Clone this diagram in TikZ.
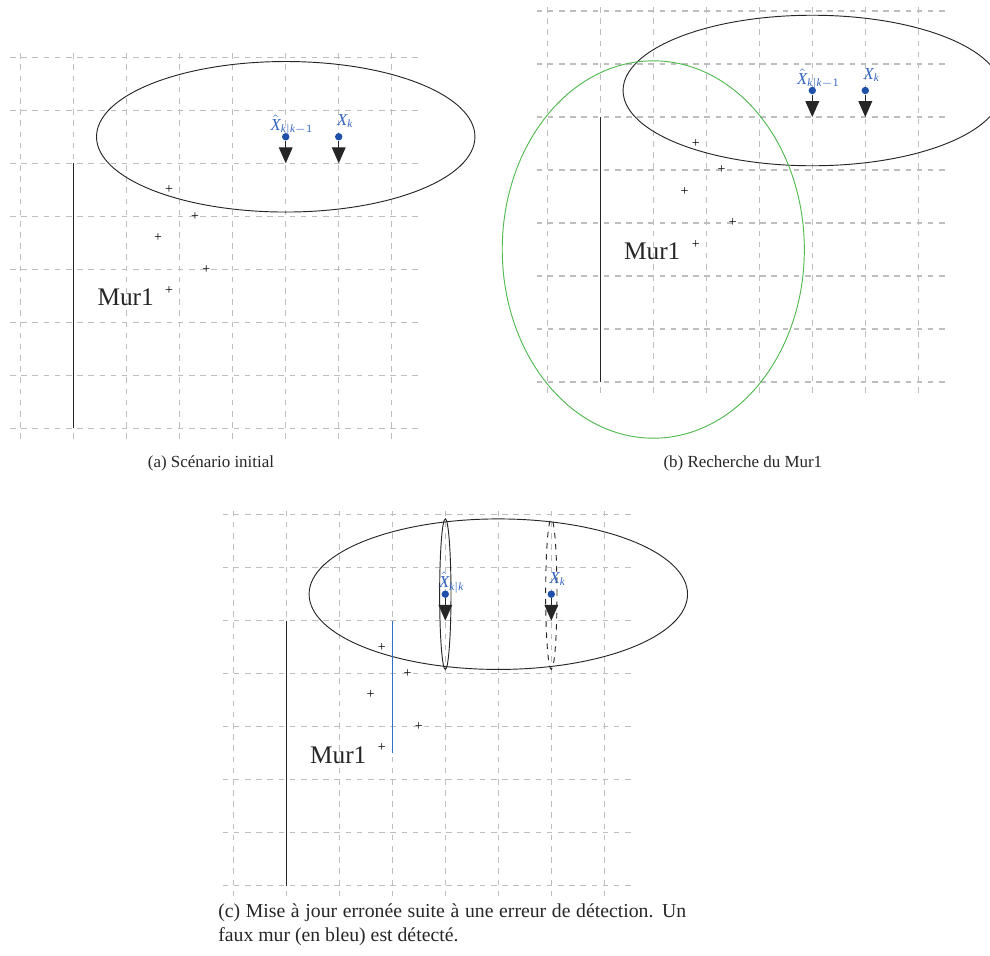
\documentclass[tikz,border=0pt]{standalone}
\usepackage{fontspec}
\setmainfont{Liberation Serif}
\usetikzlibrary{arrows.meta}
\definecolor{GridGray}{RGB}{190,190,190}
\definecolor{EstBlue}{RGB}{30,80,170}
\definecolor{LabelBlue}{RGB}{50,100,190}
\definecolor{FalseBlue}{RGB}{50,110,200}
\definecolor{GateGreen}{RGB}{80,185,80}
\tikzset{
  gridline/.style={draw=GridGray,dashed,line width=0.6pt},
  wall/.style={draw=black!85,line width=0.6pt},
  falsewall/.style={draw=FalseBlue,line width=0.7pt},
  covar/.style={draw=black!85,line width=0.5pt},
  gate/.style={draw=GateGreen,line width=0.5pt},
  hit/.style={inner sep=0pt,font=\fontsize{7.5}{8}\selectfont},
  murlabel/.style={inner sep=0pt,font=\fontsize{13.6}{15}\selectfont,text=black!85},
  estdot/.style={circle,fill=EstBlue,inner sep=0pt,minimum size=1.4mm},
  estlabel/.style={anchor=north,inner sep=0pt,text=LabelBlue,font=\fontsize{9}{10}\selectfont},
  motion/.style={-{Triangle[length=3mm,width=2.6mm]},draw=black!85,line width=0.5pt},
  caption/.style={font=\fontsize{9.1}{12.8}\selectfont,text=black!85},
  % grid, wall, laser hits and predicted covariance, shared by the three panels
  salle/.pic={
    \draw[gridline] (-0.2,-0.2) grid (7.5,7.15);
    \draw[wall] (1,0) -- (1,5);
    \node[murlabel] (-mur) at (1.98,2.47) {Mur1};
    \foreach \px/\py [count=\n] in {2.8/4.5,3.29/4.0,2.59/3.6,3.5/3.0,2.8/2.6}
      \node[hit] (-hit\n) at (\px,\py) {+};
    \draw[covar] (5,5.5) ellipse [x radius=3.57,y radius=1.42];
  }
}

\begin{document}
\begin{tikzpicture}
  \useasboundingbox (0,0) rectangle (18.679,18.019);

  % (a) initial scenario
  \begin{scope}[shift={(0.391,9.938)}]
    \pic (sa) at (0,0) {salle};
    \node[estdot] (xpred) at (5,5.5) {};
    \node[estdot] (xtrue) at (6,5.5) {};
    \coordinate (xpredtip) at (5,5);
    \coordinate (xtruetip) at (6,5);
    \draw[motion] (xpred) -- (xpredtip);
    \draw[motion] (xtrue) -- (xtruetip);
    \node[estlabel] (xpredlbl) at (5.12,5.92) {$\hat{\mathit{X}}_{\mathit{k}|\mathit{k}-1}$};
    \node[estlabel] (xtruelbl) at (6.12,5.92) {$\mathit{X}_{\mathit{k}}$};
    \node[caption] (capa) at (3.59,-0.655) {(a) Scénario initial};
  \end{scope}

  % (b) search for the wall
  \begin{scope}[shift={(10.326,10.811)}]
    \pic (sb) at (0,0) {salle};
    \draw[gate] (2,2.5) ellipse [x radius=2.85,y radius=3.56];
    \node[estdot] (xpredb) at (5,5.5) {};
    \node[estdot] (xtrueb) at (6,5.5) {};
    \coordinate (xpredbtip) at (5,5);
    \coordinate (xtruebtip) at (6,5);
    \draw[motion] (xpredb) -- (xpredbtip);
    \draw[motion] (xtrueb) -- (xtruebtip);
    \node[estlabel] (xpredblbl) at (5.12,5.92) {$\hat{\mathit{X}}_{\mathit{k}|\mathit{k}-1}$};
    \node[estlabel] (xtrueblbl) at (6.12,5.92) {$\mathit{X}_{\mathit{k}}$};
    \node[caption] (capb) at (3.69,-1.53) {(b) Recherche du Mur1};
  \end{scope}

  % (c) wrong update
  \begin{scope}[shift={(4.402,1.308)}]
    \pic (sc) at (0,0) {salle};
    \draw[falsewall] (3,2.5) -- (3,5);
    \node[estdot] (xupd) at (4,5.5) {};
    \node[estdot] (xtruec) at (6,5.5) {};
    \coordinate (xupdtip) at (4,5);
    \coordinate (xtruectip) at (6,5);
    \draw[motion] (xupd) -- (xupdtip);
    \draw[motion] (xtruec) -- (xtruectip);
    \draw[covar] (4,5.5) ellipse [x radius=0.107,y radius=1.42];
    \draw[covar,dashed] (6,5.5) ellipse [x radius=0.107,y radius=1.42];
    \node[estlabel] (xupdlbl) at (4.12,5.92) {$\hat{\mathit{X}}_{\mathit{k}|\mathit{k}}$};
    \node[estlabel] (xtrueclbl) at (6.12,5.92) {$\mathit{X}_{\mathit{k}}$};
    \node[caption,font=\fontsize{10.6}{12.8}\selectfont,anchor=north west,align=justify,
      text width=8.83cm,inner sep=0pt] (capc) at (-0.29,-0.33)
      {(c) Mise à jour erronée suite à une erreur de détection. Un\linebreak faux mur (en bleu) est détecté.};
  \end{scope}
\end{tikzpicture}
\end{document}
